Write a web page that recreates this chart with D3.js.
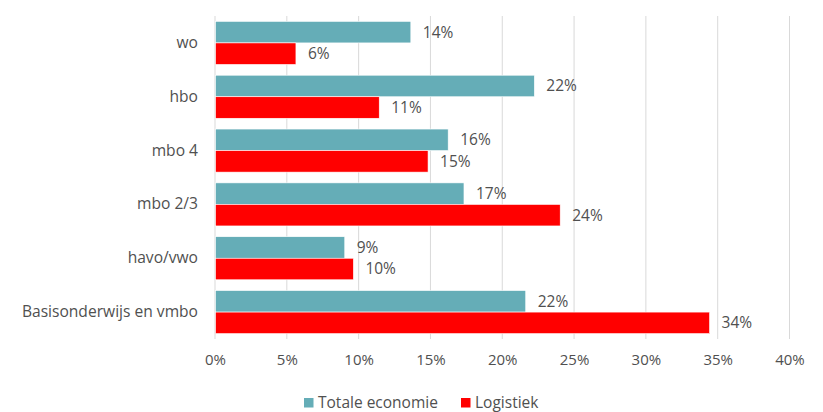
<!DOCTYPE html>
<html>
<head>
<meta charset="utf-8">
<script src="https://cdn.jsdelivr.net/npm/d3@7"></script>
<style>
  body { margin: 0; background: #fff; }
  svg text { font-family: "Open Sans", "Noto Sans", sans-serif; fill: #505050; }
</style>
</head>
<body>
<svg id="chart" width="823" height="412"></svg>
<script>
const categories = ['wo', 'hbo', 'mbo 4', 'mbo 2/3', 'havo/vwo', 'Basisonderwijs en vmbo'];
const seriesNames = ['Totale economie', 'Logistiek'];
const totaleEconomie = [13.6, 22.2, 16.2, 17.3, 9.0, 21.6];
const logistiek = [5.6, 11.4, 14.8, 24.0, 9.6, 34.4];
const xTicks = [0, 5, 10, 15, 20, 25, 30, 35, 40];

const colors = ['#65adb7', '#ff0000'];
const series = [totaleEconomie, logistiek];

const svg = d3.select('#chart');

const x = d3.scaleLinear().domain([0, 40]).range([215, 789.5]);
const y = d3.scaleBand().domain(categories).range([16, 339]).paddingInner(0.2).paddingOuter(0.1);
const ySub = d3.scaleBand().domain([0, 1]).range([0, y.bandwidth()]);

// gridlines
svg.append('g')
    .selectAll('line')
    .data(xTicks)
    .join('line')
    .attr('x1', d => x(d)).attr('x2', d => x(d))
    .attr('y1', 16).attr('y2', 339)
    .attr('stroke', '#d9d9d9')
    .attr('stroke-width', 1);

// x axis labels
const xAxis = d3.axisBottom(x).tickValues(xTicks).tickFormat(d => d + '%').tickSize(0).tickPadding(0);
const xg = svg.append('g').attr('transform', 'translate(0,354)').call(xAxis);
xg.select('.domain').remove();
xg.selectAll('text').style('font-size', '15px').attr('dy', '0.71em').attr('y', 0);

// y axis labels
const yAxis = d3.axisLeft(y).tickSize(0).tickPadding(17);
const yg = svg.append('g').attr('transform', 'translate(215,0)').call(yAxis);
yg.select('.domain').remove();
yg.selectAll('text').style('font-size', '15.6px');

// bars
const groups = svg.append('g')
    .selectAll('g')
    .data(categories)
    .join('g')
    .attr('transform', d => `translate(0,${y(d)})`);

series.forEach((vals, si) => {
    groups.append('rect')
        .attr('x', x(0) + 0.5)
        .attr('y', ySub(si))
        .attr('width', (d, i) => x(vals[i]) - x(0))
        .attr('height', ySub.bandwidth())
        .attr('fill', colors[si])
        .attr('stroke', '#fff')
        .attr('stroke-width', 0.6);

    groups.append('text')
        .attr('x', (d, i) => x(vals[i]) + 12.5)
        .attr('y', ySub(si) + ySub.bandwidth() / 2)
        .attr('dy', '0.35em')
        .style('font-size', '15.5px')
        .text((d, i) => Math.round(vals[i]) + '%');
});

// legend
const legendX = [304, 461];
const legend = svg.append('g')
    .selectAll('g')
    .data(seriesNames)
    .join('g')
    .attr('transform', (d, i) => `translate(${legendX[i]},398)`);
legend.append('rect')
    .attr('width', 9.5).attr('height', 9.5)
    .attr('fill', (d, i) => colors[i]);
legend.append('text')
    .attr('x', 14)
    .attr('y', 5)
    .attr('dy', '0.35em')
    .style('font-size', '15.5px')
    .text(d => d);
</script>
</body>
</html>
